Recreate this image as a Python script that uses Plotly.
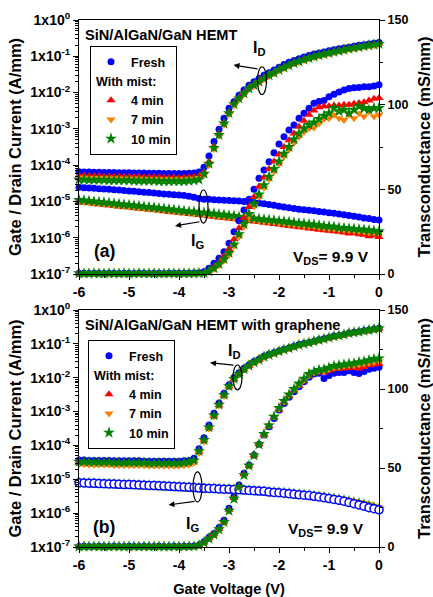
import plotly.graph_objects as go

# ---------------- data ----------------
VG = [-6.0, -5.9, -5.8, -5.7, -5.6, -5.5, -5.4, -5.3, -5.2, -5.1,
      -5.0, -4.9, -4.8, -4.7, -4.6, -4.5, -4.4, -4.3, -4.2, -4.1,
      -4.0, -3.9, -3.8, -3.7, -3.6, -3.5, -3.4, -3.3, -3.2, -3.1,
      -3.0, -2.9, -2.8, -2.7, -2.6, -2.5, -2.4, -2.3, -2.2, -2.1,
      -2.0, -1.9, -1.8, -1.7, -1.6, -1.5, -1.4, -1.3, -1.2, -1.1,
      -1.0, -0.9, -0.8, -0.7, -0.6, -0.5, -0.4, -0.3, -0.2, -0.1, 0.0]

SERIES = ["Fresh", "4 min", "7 min", "10 min"]

# ----- panel (a): SiN/AlGaN/GaN HEMT -----
ID_A_FRESH = [6.6e-5, 6.5e-5, 6.5e-5, 6.4e-5, 6.4e-5, 6.3e-5, 6.3e-5, 6.3e-5, 6.2e-5, 6.2e-5,
              6.2e-5, 6.1e-5, 6.1e-5, 6.1e-5, 6.0e-5, 6.0e-5, 6.0e-5, 5.9e-5, 5.9e-5, 5.9e-5,
              5.9e-5, 5.9e-5, 6.0e-5, 6.1e-5, 6.5e-5, 8.7e-5, 1.8e-4, 4.5e-4, 9.8e-4, 1.95e-3,
              3.7e-3, 5.6e-3, 8.5e-3, 1.17e-2, 1.6e-2, 2.0e-2, 2.45e-2, 3.0e-2, 3.5e-2, 4.2e-2,
              5.0e-2, 5.9e-2, 6.8e-2, 7.6e-2, 8.5e-2, 9.5e-2, 0.105, 0.115, 0.123, 0.132,
              0.141, 0.151, 0.162, 0.170, 0.178, 0.190, 0.200, 0.209, 0.219, 0.229, 0.240]
ID_A_4MIN = [5.1e-5, 5.1e-5, 5.0e-5, 5.0e-5, 5.0e-5, 4.9e-5, 4.9e-5, 4.9e-5, 4.9e-5, 4.8e-5,
             4.8e-5, 4.8e-5, 4.8e-5, 4.7e-5, 4.7e-5, 4.7e-5, 4.7e-5, 4.6e-5, 4.6e-5, 4.6e-5,
             4.6e-5, 4.6e-5, 4.7e-5, 4.8e-5, 5.0e-5, 6.4e-5, 1.25e-4, 3.3e-4, 7.4e-4, 1.5e-3,
             2.9e-3, 5.1e-3, 7.3e-3, 1.0e-2, 1.36e-2, 1.68e-2, 2.1e-2, 2.55e-2, 3.1e-2, 3.65e-2,
             4.35e-2, 5.1e-2, 5.8e-2, 6.7e-2, 7.4e-2, 8.4e-2, 9.2e-2, 0.101, 0.110, 0.118,
             0.127, 0.136, 0.146, 0.156, 0.166, 0.175, 0.184, 0.195, 0.205, 0.214, 0.225]
ID_A_7MIN = [4.5e-5, 4.5e-5, 4.4e-5, 4.4e-5, 4.4e-5, 4.3e-5, 4.3e-5, 4.3e-5, 4.3e-5, 4.2e-5,
             4.2e-5, 4.2e-5, 4.2e-5, 4.1e-5, 4.1e-5, 4.1e-5, 4.1e-5, 4.0e-5, 4.0e-5, 4.0e-5,
             4.0e-5, 4.0e-5, 4.1e-5, 4.2e-5, 4.4e-5, 5.4e-5, 1.0e-4, 2.8e-4, 6.4e-4, 1.3e-3,
             2.5e-3, 4.5e-3, 6.6e-3, 9.1e-3, 1.24e-2, 1.55e-2, 1.92e-2, 2.35e-2, 2.85e-2, 3.35e-2,
             4.0e-2, 4.7e-2, 5.4e-2, 6.2e-2, 6.9e-2, 7.8e-2, 8.6e-2, 9.4e-2, 0.103, 0.111,
             0.119, 0.128, 0.137, 0.147, 0.157, 0.165, 0.174, 0.185, 0.194, 0.203, 0.213]
ID_A_10MIN = [4.0e-5, 4.0e-5, 3.9e-5, 3.9e-5, 3.9e-5, 3.9e-5, 3.8e-5, 3.8e-5, 3.8e-5, 3.8e-5,
              3.8e-5, 3.7e-5, 3.7e-5, 3.7e-5, 3.7e-5, 3.7e-5, 3.6e-5, 3.6e-5, 3.6e-5, 3.6e-5,
              3.6e-5, 3.6e-5, 3.7e-5, 3.8e-5, 4.0e-5, 5.8e-5, 1.1e-4, 3.0e-4, 6.8e-4, 1.4e-3,
              2.7e-3, 4.8e-3, 6.9e-3, 9.5e-3, 1.3e-2, 1.6e-2, 2.0e-2, 2.45e-2, 3.0e-2, 3.5e-2,
              4.2e-2, 4.9e-2, 5.6e-2, 6.5e-2, 7.2e-2, 8.1e-2, 8.9e-2, 9.8e-2, 0.107, 0.115,
              0.123, 0.132, 0.141, 0.151, 0.162, 0.170, 0.178, 0.190, 0.200, 0.209, 0.219]

IG_A_FRESH = [2.45e-5, 2.4e-5, 2.35e-5, 2.3e-5, 2.25e-5, 2.2e-5, 2.15e-5, 2.1e-5, 2.05e-5, 2.0e-5,
              1.95e-5, 1.9e-5, 1.85e-5, 1.8e-5, 1.75e-5, 1.7e-5, 1.65e-5, 1.6e-5, 1.57e-5, 1.53e-5,
              1.5e-5, 1.45e-5, 1.4e-5, 1.3e-5, 1.2e-5, 1.15e-5, 1.14e-5, 1.12e-5, 1.1e-5, 1.08e-5,
              1.06e-5, 1.04e-5, 1.02e-5, 1.0e-5, 9.7e-6, 9.4e-6, 9.0e-6, 8.6e-6, 8.2e-6, 7.8e-6,
              7.4e-6, 7.0e-6, 6.7e-6, 6.4e-6, 6.1e-6, 5.9e-6, 5.7e-6, 5.5e-6, 5.3e-6, 5.1e-6,
              4.9e-6, 4.7e-6, 4.5e-6, 4.3e-6, 4.1e-6, 3.9e-6, 3.7e-6, 3.5e-6, 3.4e-6, 3.2e-6, 3.1e-6]
IG_A_4MIN = [9.6e-6, 9.3e-6, 9.0e-6, 8.7e-6, 8.4e-6, 8.1e-6, 7.8e-6, 7.6e-6, 7.3e-6, 7.1e-6,
             6.9e-6, 6.6e-6, 6.4e-6, 6.2e-6, 6.0e-6, 5.8e-6, 5.6e-6, 5.4e-6, 5.2e-6, 5.0e-6,
             4.9e-6, 4.7e-6, 4.5e-6, 4.4e-6, 4.2e-6, 4.1e-6, 3.9e-6, 3.8e-6, 3.6e-6, 3.5e-6,
             3.4e-6, 3.3e-6, 3.1e-6, 3.0e-6, 2.9e-6, 2.8e-6, 2.7e-6, 2.6e-6, 2.5e-6, 2.4e-6,
             2.3e-6, 2.2e-6, 2.1e-6, 2.05e-6, 1.95e-6, 1.9e-6, 1.8e-6, 1.75e-6, 1.65e-6, 1.6e-6,
             1.55e-6, 1.5e-6, 1.45e-6, 1.4e-6, 1.3e-6, 1.35e-6, 1.25e-6, 1.2e-6, 1.1e-6, 1.15e-6, 1.05e-6]
IG_A_7MIN = [1.0e-5, 9.7e-6, 9.4e-6, 9.1e-6, 8.8e-6, 8.5e-6, 8.2e-6, 7.9e-6, 7.7e-6, 7.4e-6,
             7.2e-6, 6.9e-6, 6.7e-6, 6.5e-6, 6.3e-6, 6.1e-6, 5.9e-6, 5.7e-6, 5.5e-6, 5.3e-6,
             5.1e-6, 5.0e-6, 4.8e-6, 4.6e-6, 4.5e-6, 4.3e-6, 4.2e-6, 4.0e-6, 3.9e-6, 3.8e-6,
             3.6e-6, 3.5e-6, 3.4e-6, 3.3e-6, 3.2e-6, 3.0e-6, 2.9e-6, 2.8e-6, 2.75e-6, 2.65e-6,
             2.55e-6, 2.45e-6, 2.35e-6, 2.3e-6, 2.2e-6, 2.15e-6, 2.05e-6, 2.0e-6, 1.95e-6, 1.85e-6,
             1.8e-6, 1.75e-6, 1.7e-6, 1.65e-6, 1.6e-6, 1.55e-6, 1.5e-6, 1.45e-6, 1.4e-6, 1.38e-6, 1.35e-6]
IG_A_10MIN = [1.1e-5, 1.07e-5, 1.03e-5, 1.0e-5, 9.7e-6, 9.4e-6, 9.1e-6, 8.8e-6, 8.5e-6, 8.2e-6,
              8.0e-6, 7.7e-6, 7.5e-6, 7.2e-6, 7.0e-6, 6.8e-6, 6.5e-6, 6.3e-6, 6.1e-6, 5.9e-6,
              5.7e-6, 5.5e-6, 5.3e-6, 5.2e-6, 5.0e-6, 4.9e-6, 4.7e-6, 4.6e-6, 4.4e-6, 4.3e-6,
              4.1e-6, 4.0e-6, 3.8e-6, 3.7e-6, 3.6e-6, 3.4e-6, 3.3e-6, 3.2e-6, 3.1e-6, 3.0e-6,
              2.9e-6, 2.8e-6, 2.7e-6, 2.6e-6, 2.5e-6, 2.45e-6, 2.35e-6, 2.3e-6, 2.2e-6, 2.1e-6,
              2.05e-6, 2.0e-6, 1.9e-6, 1.85e-6, 1.8e-6, 1.75e-6, 1.7e-6, 1.65e-6, 1.6e-6, 1.55e-6, 1.5e-6]

GM_A_FRESH = [0.4, 0.4, 0.3, 0.4, 0.4, 0.3, 0.4, 0.4, 0.3, 0.4,
              0.4, 0.3, 0.4, 0.4, 0.3, 0.4, 0.4, 0.3, 0.4, 0.4,
              0.4, 0.5, 0.5, 0.6, 0.8, 1.4, 3.4, 6.3, 9.3, 13.2,
              18.1, 25.0, 31.5, 37.8, 44.1, 50.0, 56.5, 61.4, 66.3, 71.6,
              76.8, 81.1, 85.0, 88.0, 92.0, 94.9, 97.9, 100.8, 101.8, 102.4,
              104.7, 106.1, 107.5, 108.7, 109.5, 110.0, 110.2, 110.6, 110.6, 111.0, 111.7]
GM_A_4MIN = [0.3, 0.3, 0.4, 0.3, 0.3, 0.4, 0.3, 0.3, 0.4, 0.3,
             0.3, 0.4, 0.3, 0.3, 0.4, 0.3, 0.3, 0.4, 0.3, 0.3,
             0.3, 0.4, 0.4, 0.5, 0.6, 0.8, 2.0, 4.2, 7.0, 10.5,
             14.8, 20.5, 27.0, 33.0, 39.5, 45.5, 51.5, 57.0, 62.0, 66.5,
             70.5, 75.0, 79.0, 83.0, 87.0, 90.5, 94.0, 96.5, 98.5, 99.0,
             99.0, 99.5, 99.5, 100.0, 100.0, 100.5, 101.0, 101.5, 102.5, 103.5, 104.0]
GM_A_7MIN = [0.3, 0.3, 0.3, 0.3, 0.3, 0.3, 0.3, 0.3, 0.3, 0.3,
             0.3, 0.3, 0.3, 0.3, 0.3, 0.3, 0.3, 0.3, 0.3, 0.3,
             0.3, 0.3, 0.4, 0.4, 0.4, 0.5, 1.3, 3.0, 5.2, 8.0,
             11.5, 16.5, 22.0, 28.0, 34.0, 40.0, 45.5, 51.0, 56.0, 60.5,
             65.0, 69.5, 73.5, 77.5, 81.0, 84.0, 86.0, 86.5, 89.0, 91.5,
             92.0, 94.0, 92.0, 91.0, 94.0, 92.0, 95.0, 93.0, 96.0, 93.0, 94.0]
GM_A_10MIN = [0.4, 0.3, 0.3, 0.4, 0.3, 0.3, 0.4, 0.3, 0.3, 0.4,
              0.3, 0.3, 0.4, 0.3, 0.3, 0.4, 0.3, 0.3, 0.4, 0.3,
              0.3, 0.4, 0.4, 0.4, 0.5, 0.6, 1.6, 3.4, 5.8, 8.8,
              12.5, 17.5, 23.5, 29.5, 35.5, 41.5, 47.0, 52.5, 57.5, 62.0,
              66.5, 71.0, 75.0, 79.5, 83.0, 86.0, 88.0, 89.5, 91.5, 93.5,
              95.0, 98.0, 96.0, 97.0, 95.0, 97.0, 99.0, 98.0, 97.0, 98.0, 98.0]

# ----- panel (b): SiN/AlGaN/GaN HEMT with graphene -----
ID_B_FRESH = [3.7e-5, 3.7e-5, 3.6e-5, 3.6e-5, 3.6e-5, 3.6e-5, 3.6e-5, 3.5e-5, 3.5e-5, 3.5e-5,
              3.5e-5, 3.5e-5, 3.5e-5, 3.4e-5, 3.4e-5, 3.4e-5, 3.4e-5, 3.4e-5, 3.4e-5, 3.4e-5,
              3.4e-5, 3.5e-5, 3.6e-5, 4.2e-5, 8.0e-5, 1.7e-4, 4.0e-4, 8.9e-4, 1.8e-3, 3.5e-3,
              6.2e-3, 1.02e-2, 1.4e-2, 1.9e-2, 2.4e-2, 3.0e-2, 3.5e-2, 4.3e-2, 4.9e-2, 5.5e-2,
              6.2e-2, 6.9e-2, 7.6e-2, 8.5e-2, 9.5e-2, 0.102, 0.110, 0.120, 0.132, 0.141,
              0.155, 0.170, 0.178, 0.190, 0.209, 0.219, 0.229, 0.245, 0.257, 0.275, 0.288]
ID_B_4MIN = [3.1e-5, 3.1e-5, 3.0e-5, 3.0e-5, 3.0e-5, 3.0e-5, 3.0e-5, 2.9e-5, 2.9e-5, 2.9e-5,
             2.9e-5, 2.9e-5, 2.9e-5, 2.9e-5, 2.8e-5, 2.8e-5, 2.8e-5, 2.8e-5, 2.8e-5, 2.8e-5,
             2.8e-5, 2.9e-5, 3.0e-5, 3.4e-5, 6.5e-5, 1.4e-4, 3.3e-4, 7.5e-4, 1.55e-3, 3.0e-3,
             5.5e-3, 9.0e-3, 1.28e-2, 1.75e-2, 2.25e-2, 2.8e-2, 3.35e-2, 4.1e-2, 4.7e-2, 5.3e-2,
             6.0e-2, 6.7e-2, 7.4e-2, 8.3e-2, 9.2e-2, 0.100, 0.108, 0.118, 0.129, 0.139,
             0.152, 0.166, 0.176, 0.188, 0.205, 0.216, 0.227, 0.242, 0.255, 0.272, 0.285]
ID_B_7MIN = [2.8e-5, 2.8e-5, 2.7e-5, 2.7e-5, 2.7e-5, 2.7e-5, 2.7e-5, 2.6e-5, 2.6e-5, 2.6e-5,
             2.6e-5, 2.6e-5, 2.6e-5, 2.6e-5, 2.5e-5, 2.5e-5, 2.5e-5, 2.5e-5, 2.5e-5, 2.5e-5,
             2.5e-5, 2.6e-5, 2.7e-5, 3.1e-5, 6.0e-5, 1.3e-4, 3.1e-4, 7.1e-4, 1.5e-3, 2.9e-3,
             5.3e-3, 8.8e-3, 1.25e-2, 1.72e-2, 2.2e-2, 2.75e-2, 3.3e-2, 4.05e-2, 4.65e-2, 5.25e-2,
             5.95e-2, 6.65e-2, 7.35e-2, 8.25e-2, 9.15e-2, 0.099, 0.107, 0.117, 0.128, 0.138,
             0.151, 0.165, 0.175, 0.187, 0.204, 0.215, 0.226, 0.241, 0.254, 0.271, 0.284]
ID_B_10MIN = [3.3e-5, 3.3e-5, 3.2e-5, 3.2e-5, 3.2e-5, 3.2e-5, 3.2e-5, 3.1e-5, 3.1e-5, 3.1e-5,
              3.1e-5, 3.1e-5, 3.1e-5, 3.1e-5, 3.0e-5, 3.0e-5, 3.0e-5, 3.0e-5, 3.0e-5, 3.0e-5,
              3.0e-5, 3.1e-5, 3.2e-5, 3.6e-5, 6.8e-5, 1.45e-4, 3.4e-4, 7.7e-4, 1.6e-3, 3.1e-3,
              5.6e-3, 9.2e-3, 1.3e-2, 1.78e-2, 2.28e-2, 2.85e-2, 3.4e-2, 4.15e-2, 4.75e-2, 5.35e-2,
              6.05e-2, 6.75e-2, 7.45e-2, 8.35e-2, 9.3e-2, 0.101, 0.109, 0.119, 0.130, 0.140,
              0.153, 0.168, 0.177, 0.189, 0.207, 0.218, 0.228, 0.244, 0.256, 0.274, 0.287]

IG_B_FRESH = [7.9e-6, 7.8e-6, 7.7e-6, 7.6e-6, 7.5e-6, 7.4e-6, 7.3e-6, 7.2e-6, 7.1e-6, 7.0e-6,
              7.0e-6, 6.9e-6, 6.8e-6, 6.7e-6, 6.6e-6, 6.5e-6, 6.4e-6, 6.3e-6, 6.2e-6, 6.1e-6,
              6.0e-6, 5.9e-6, 5.8e-6, 5.7e-6, 5.5e-6, 5.4e-6, 5.35e-6, 5.3e-6, 5.2e-6, 5.1e-6,
              5.05e-6, 5.0e-6, 4.9e-6, 4.8e-6, 4.7e-6, 4.6e-6, 4.5e-6, 4.4e-6, 4.2e-6, 4.1e-6,
              4.0e-6, 3.9e-6, 3.75e-6, 3.6e-6, 3.5e-6, 3.4e-6, 3.3e-6, 3.15e-6, 3.0e-6, 2.85e-6,
              2.7e-6, 2.55e-6, 2.4e-6, 2.25e-6, 2.05e-6, 1.9e-6, 1.75e-6, 1.6e-6, 1.45e-6, 1.35e-6, 1.25e-6]
IG_B_4MIN = [8.0e-6, 7.9e-6, 7.8e-6, 7.7e-6, 7.6e-6, 7.5e-6, 7.4e-6, 7.3e-6, 7.2e-6, 7.1e-6,
             7.0e-6, 6.9e-6, 6.8e-6, 6.7e-6, 6.6e-6, 6.5e-6, 6.4e-6, 6.3e-6, 6.2e-6, 6.1e-6,
             6.0e-6, 5.9e-6, 5.8e-6, 5.7e-6, 5.6e-6, 5.5e-6, 5.4e-6, 5.3e-6, 5.2e-6, 5.15e-6,
             5.1e-6, 5.0e-6, 4.9e-6, 4.8e-6, 4.7e-6, 4.6e-6, 4.5e-6, 4.4e-6, 4.3e-6, 4.2e-6,
             4.1e-6, 4.0e-6, 3.85e-6, 3.7e-6, 3.6e-6, 3.5e-6, 3.35e-6, 3.2e-6, 3.1e-6, 2.95e-6,
             2.8e-6, 2.65e-6, 2.5e-6, 2.35e-6, 2.2e-6, 2.05e-6, 1.9e-6, 1.75e-6, 1.6e-6, 1.45e-6, 1.3e-6]
IG_B_7MIN = [7.8e-6, 7.7e-6, 7.6e-6, 7.5e-6, 7.4e-6, 7.3e-6, 7.2e-6, 7.1e-6, 7.0e-6, 7.0e-6,
             6.9e-6, 6.8e-6, 6.7e-6, 6.6e-6, 6.5e-6, 6.4e-6, 6.3e-6, 6.2e-6, 6.1e-6, 6.0e-6,
             5.9e-6, 5.8e-6, 5.7e-6, 5.6e-6, 5.5e-6, 5.45e-6, 5.4e-6, 5.3e-6, 5.25e-6, 5.2e-6,
             5.1e-6, 5.05e-6, 5.0e-6, 4.9e-6, 4.8e-6, 4.7e-6, 4.6e-6, 4.5e-6, 4.45e-6, 4.35e-6,
             4.25e-6, 4.15e-6, 4.0e-6, 3.9e-6, 3.8e-6, 3.7e-6, 3.55e-6, 3.45e-6, 3.3e-6, 3.2e-6,
             3.05e-6, 2.9e-6, 2.75e-6, 2.6e-6, 2.45e-6, 2.3e-6, 2.15e-6, 2.0e-6, 1.85e-6, 1.65e-6, 1.5e-6]
IG_B_10MIN = [7.9e-6, 7.8e-6, 7.7e-6, 7.6e-6, 7.5e-6, 7.4e-6, 7.3e-6, 7.2e-6, 7.1e-6, 7.05e-6,
              6.95e-6, 6.85e-6, 6.75e-6, 6.65e-6, 6.55e-6, 6.45e-6, 6.35e-6, 6.25e-6, 6.15e-6, 6.05e-6,
              5.95e-6, 5.85e-6, 5.75e-6, 5.65e-6, 5.55e-6, 5.45e-6, 5.4e-6, 5.3e-6, 5.2e-6, 5.15e-6,
              5.1e-6, 5.0e-6, 4.9e-6, 4.8e-6, 4.7e-6, 4.6e-6, 4.5e-6, 4.4e-6, 4.3e-6, 4.2e-6,
              4.1e-6, 4.0e-6, 3.85e-6, 3.7e-6, 3.6e-6, 3.5e-6, 3.4e-6, 3.25e-6, 3.1e-6, 3.0e-6,
              2.85e-6, 2.7e-6, 2.55e-6, 2.4e-6, 2.25e-6, 2.1e-6, 1.95e-6, 1.8e-6, 1.65e-6, 1.5e-6, 1.35e-6]

GM_B_FRESH = [0.3, 0.4, 0.3, 0.3, 0.4, 0.3, 0.3, 0.4, 0.3, 0.3,
              0.4, 0.3, 0.3, 0.4, 0.3, 0.3, 0.4, 0.3, 0.3, 0.4,
              0.3, 0.4, 0.5, 0.6, 1.3, 3.4, 6.1, 8.6, 12.4, 17.0,
              24.5, 31.9, 39.2, 46.6, 51.9, 58.2, 65.0, 70.9, 76.1, 81.4,
              86.7, 90.9, 94.7, 98.3, 101.5, 104.6, 107.4, 109.5, 110.0, 106.7,
              108.5, 110.0, 110.5, 110.5, 111.5, 110.5, 109.8, 111.0, 112.5, 113.2, 113.7]
GM_B_4MIN = [0.3, 0.3, 0.4, 0.3, 0.3, 0.4, 0.3, 0.3, 0.4, 0.3,
             0.3, 0.4, 0.3, 0.3, 0.4, 0.3, 0.3, 0.4, 0.3, 0.3,
             0.4, 0.4, 0.4, 0.5, 1.0, 2.9, 5.5, 8.0, 11.5, 16.0,
             23.5, 31.0, 38.5, 46.0, 51.5, 58.0, 65.0, 71.0, 76.5, 82.0,
             87.0, 91.5, 95.5, 99.0, 102.0, 105.0, 108.0, 110.0, 111.0, 110.5,
             111.5, 112.5, 113.0, 113.0, 113.5, 113.5, 113.0, 114.0, 115.0, 115.5, 116.0]
GM_B_7MIN = [0.4, 0.3, 0.3, 0.4, 0.3, 0.3, 0.4, 0.3, 0.3, 0.4,
             0.3, 0.3, 0.4, 0.3, 0.3, 0.4, 0.3, 0.3, 0.4, 0.3,
             0.3, 0.4, 0.4, 0.5, 0.9, 2.7, 5.2, 7.6, 11.0, 15.5,
             22.8, 30.5, 38.0, 45.5, 51.5, 58.0, 65.2, 71.2, 77.0, 82.5,
             87.5, 92.0, 96.0, 99.5, 102.5, 105.5, 108.5, 110.5, 111.5, 111.5,
             112.5, 113.5, 114.0, 114.5, 115.0, 115.0, 115.5, 116.0, 116.5, 117.0, 117.5]
GM_B_10MIN = [0.3, 0.3, 0.3, 0.4, 0.3, 0.3, 0.3, 0.4, 0.3, 0.3,
              0.3, 0.4, 0.3, 0.3, 0.3, 0.4, 0.3, 0.3, 0.3, 0.4,
              0.3, 0.4, 0.4, 0.5, 1.0, 2.8, 5.3, 7.8, 11.2, 15.8,
              23.0, 30.5, 38.0, 45.5, 51.5, 58.0, 65.0, 71.5, 77.0, 82.5,
              88.0, 92.5, 96.5, 100.0, 103.5, 106.5, 109.5, 111.0, 112.0, 112.5,
              113.5, 114.6, 115.0, 115.5, 116.0, 116.3, 117.0, 117.5, 118.2, 119.0, 119.4]

X_TICKS = [-6, -5, -4, -3, -2, -1, 0]
X_TICKTEXT = ["-6", "-5", "-4", "-3", "-2", "-1", "0"]
LOG_TICKS = [1e-7, 1e-6, 1e-5, 1e-4, 1e-3, 1e-2, 1e-1, 1e0]
LOG_TICKTEXT = ["1x10<sup>-7</sup>", "1x10<sup>-6</sup>", "1x10<sup>-5</sup>", "1x10<sup>-4</sup>",
                "1x10<sup>-3</sup>", "1x10<sup>-2</sup>", "1x10<sup>-1</sup>", "1x10<sup>0</sup>"]
GM_TICKS = [0, 50, 100, 150]

# ---------------- styles / layout geometry ----------------
FONT = "Liberation Sans, Arial, Helvetica, sans-serif"
COLORS = {"Fresh": "#0000FF", "4 min": "#FF0000", "7 min": "#FF8000", "10 min": "#008000"}
SYMBOLS = {"Fresh": "circle", "4 min": "triangle-up", "7 min": "triangle-down", "10 min": "star"}
SIZES = {"Fresh": 7, "4 min": 8, "7 min": 8, "10 min": 9}

W, H = 433, 597
ML, MR, MT, MB = 30, 30, 10, 25
PW, PH = W - ML - MR, H - MT - MB


def px2x(px):
    return (px - ML) / PW


def px2y(py):
    return 1 - (py - MT) / PH


XDOM = [px2x(79), px2x(379)]
YDOM_TOP = [px2y(274), px2y(20)]
YDOM_BOT = [px2y(547), px2y(310)]

PANELS = [
    dict(x="x", yl="y", yr="y2", legend="legend", tag="a",
         ID=[ID_A_FRESH, ID_A_4MIN, ID_A_7MIN, ID_A_10MIN],
         IG=[IG_A_FRESH, IG_A_4MIN, IG_A_7MIN, IG_A_10MIN],
         GM=[GM_A_FRESH, GM_A_4MIN, GM_A_7MIN, GM_A_10MIN], open_ig=False),
    dict(x="x2", yl="y3", yr="y4", legend="legend2", tag="b",
         ID=[ID_B_FRESH, ID_B_4MIN, ID_B_7MIN, ID_B_10MIN],
         IG=[IG_B_FRESH, IG_B_4MIN, IG_B_7MIN, IG_B_10MIN],
         GM=[GM_B_FRESH, GM_B_4MIN, GM_B_7MIN, GM_B_10MIN], open_ig=True),
]


def marker(name, open_=False):
    if open_:
        return dict(symbol="circle", size=8, color="white",
                    line=dict(color=COLORS[name], width=1.5))
    return dict(symbol=SYMBOLS[name], size=SIZES[name], color=COLORS[name], line=dict(width=0))


def bfont(size):
    return dict(family=FONT, size=size, color="black", weight="bold")


fig = go.Figure()
for p in PANELS:
    for name, vals in zip(SERIES, p["GM"]):
        fig.add_trace(go.Scatter(x=VG, y=vals, mode="markers", xaxis=p["x"], yaxis=p["yr"],
                                 marker=marker(name), showlegend=False, cliponaxis=False))
    for i, (name, vals) in enumerate(zip(SERIES, p["ID"])):
        kw = dict(legendgroup=p["tag"] + ("fresh" if name == "Fresh" else "mist"))
        if i == 1:
            kw["legendgrouptitle"] = dict(text="With mist:", font=bfont(12.5))
        fig.add_trace(go.Scatter(x=VG, y=vals, mode="markers", xaxis=p["x"], yaxis=p["yl"],
                                 name=name, marker=marker(name), legend=p["legend"],
                                 cliponaxis=False, **kw))
    for i in [1, 2, 3, 0]:
        name = SERIES[i]
        fig.add_trace(go.Scatter(x=VG, y=p["IG"][i], mode="markers", xaxis=p["x"], yaxis=p["yl"],
                                 marker=marker(name, open_=(p["open_ig"] and name == "Fresh")),
                                 showlegend=False, cliponaxis=False))

LOG_MINOR = [m * 10.0 ** e for e in range(-7, 0) for m in range(2, 10)]


def xaxis(anchor, title=None):
    d = dict(domain=XDOM, anchor=anchor, range=[-6, 0], tickvals=X_TICKS, ticktext=X_TICKTEXT,
             ticks="outside", ticklen=5, tickwidth=1, tickcolor="black",
             minor=dict(dtick=0.5, ticks="outside", ticklen=3, tickcolor="black"),
             showline=True, linecolor="black", linewidth=1, mirror=True,
             showgrid=False, zeroline=False, tickfont=bfont(14), automargin=False)
    if title:
        d["title"] = dict(text=title, font=bfont(14.6), standoff=11)
    return d


def ylog(anchor, dom):
    return dict(domain=dom, anchor=anchor, type="log", range=[-7, 0],
                tickvals=LOG_TICKS, ticktext=LOG_TICKTEXT, ticks="outside", ticklen=5,
                tickcolor="black",
                minor=dict(tickvals=LOG_MINOR, ticks="outside", ticklen=3, tickcolor="black"),
                showline=True, linecolor="black", linewidth=1, showgrid=False, zeroline=False,
                tickfont=bfont(14), automargin=False,
                title=dict(text="Gate / Drain Current (A/mm)", font=bfont(16.5), standoff=4))


def ylin(anchor, over):
    return dict(anchor=anchor, overlaying=over, side="right", range=[0, 150],
                tickvals=GM_TICKS, ticks="outside", ticklen=5, tickcolor="black",
                minor=dict(dtick=25, ticks="outside", ticklen=3, tickcolor="black"),
                showline=True, linecolor="black", linewidth=1, showgrid=False, zeroline=False,
                tickfont=bfont(12.5), automargin=False,
                title=dict(text="Transconductance (mS/mm)", font=bfont(16.5), standoff=11))


legend_common = dict(bgcolor="white", bordercolor="black", borderwidth=1,
                     font=bfont(12.5), xanchor="left", yanchor="top",
                     tracegroupgap=0, traceorder="grouped", itemwidth=30)

fig.update_layout(
    width=W, height=H, margin=dict(l=ML, r=MR, t=MT, b=MB, autoexpand=False),
    paper_bgcolor="white", plot_bgcolor="white",
    font=dict(family=FONT, color="black", weight="bold"),
    xaxis=xaxis("y"), yaxis=ylog("x", YDOM_TOP), yaxis2=ylin("x", "y"),
    xaxis2=xaxis("y3", "Gate Voltage (V)"), yaxis3=ylog("x2", YDOM_BOT), yaxis4=ylin("x2", "y3"),
    legend=dict(x=px2x(90), y=px2y(46), **legend_common),
    legend2=dict(x=px2x(88), y=px2y(340), **legend_common),
)


# ---------------- annotations ----------------
def txt(xref, yref, x, y, text, size, xanchor="center"):
    fig.add_annotation(x=x, y=y, xref=xref, yref=yref, text=text, showarrow=False,
                       xanchor=xanchor, yanchor="middle", font=bfont(size))


def arrow(xref, yref, head, tail):
    fig.add_annotation(x=head[0], y=head[1], ax=tail[0], ay=tail[1], xref=xref, yref=yref,
                       axref=xref, ayref=yref, text="", showarrow=True, arrowhead=2,
                       arrowsize=1, arrowwidth=1.2, arrowcolor="black")


def ellipse(xref, yref, x0, x1, y0, y1):
    fig.add_shape(type="circle", xref=xref, yref=yref, x0=x0, x1=x1, y0=y0, y1=y1,
                  line=dict(color="black", width=1.2))


# panel (a)
txt("x", "y2", -5.93, 141, "SiN/AlGaN/GaN HEMT", 14.6, "left")
txt("x", "y2", -2.4, 133, "I<sub>D</sub>", 16)
ellipse("x", "y2", -2.43, -2.25, 106.0, 122.4)
arrow("x", "y2", (-2.91, 123.4), (-2.40, 121.0))
txt("x", "y2", -3.64, 19, "I<sub>G</sub>", 16)
ellipse("x", "y2", -3.60, -3.42, 30.1, 49.6)
arrow("x", "y2", (-4.08, 28.4), (-3.56, 31.0))
txt("x", "y2", -5.5, 13.6, "(a)", 17.5)
txt("x", "y2", -0.96, 9.5, "V<sub>DS</sub>= 9.9 V", 15.5)

# panel (b)
txt("x2", "y4", -5.93, 140.5, "SiN/AlGaN/GaN HEMT with graphene", 14.6, "left")
txt("x2", "y4", -2.9, 124, "I<sub>D</sub>", 16)
ellipse("x2", "y4", -2.92, -2.74, 99.4, 115.2)
arrow("x2", "y4", (-3.38, 116.6), (-2.88, 115.0))
txt("x2", "y4", -3.74, 14, "I<sub>G</sub>", 16)
ellipse("x2", "y4", -3.72, -3.54, 28.5, 47.5)
arrow("x2", "y4", (-4.21, 26.6), (-3.66, 29.0))
txt("x2", "y4", -5.5, 12.7, "(b)", 17.5)
txt("x2", "y4", -1.06, 10.8, "V<sub>DS</sub>= 9.9 V", 15.5)

fig.write_html("out.html",
               config={"displayModeBar": False},
               post_script="document.body.style.margin='0px';document.body.style.overflow='hidden';")
